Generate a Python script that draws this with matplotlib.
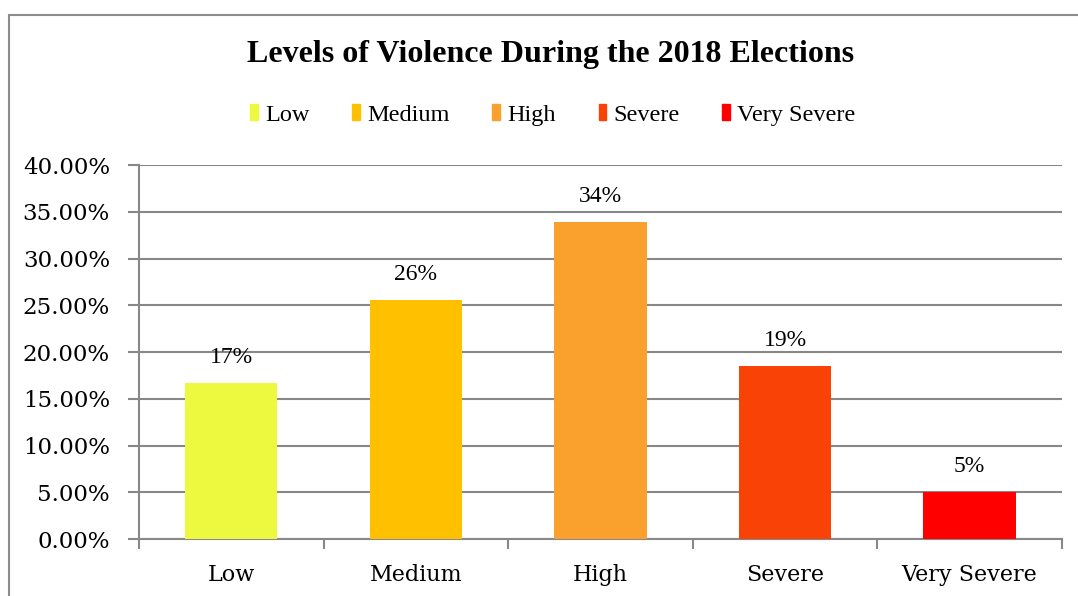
import matplotlib
matplotlib.use("Agg")
from matplotlib import pyplot as plt
from matplotlib.patches import Rectangle
from matplotlib.ticker import PercentFormatter

# datos del gráfico
categories = ["Low", "Medium", "High", "Severe", "Very Severe"]
values = [16.7, 25.6, 33.9, 18.5, 5.0]
labels = ["17%", "26%", "34%", "19%", "5%"]
colors = ["#ecf93e", "#ffc000", "#f9a02d", "#f94306", "#ff0000"]
yticks = [0, 5, 10, 15, 20, 25, 30, 35, 40]

plt.rcParams["font.family"] = ["Liberation Serif", "DejaVu Serif"]
axis_font = ["DejaVu Serif"]

fig = plt.figure(figsize=(10.78, 5.96), dpi=100)
ax = fig.add_axes([0.129, 0.0956, 0.856, 0.6275])

xs = range(len(categories))
bars = ax.bar(xs, values, width=0.5, color=colors, zorder=3)
for b, lab in zip(bars, labels):
    ax.text(b.get_x() + b.get_width() / 2, b.get_height() + 1.6, lab,
            ha="center", va="bottom", fontsize=17)

ax.set_xlim(-0.5, len(categories) - 0.5)
ax.set_ylim(0, 40)
ax.set_yticks(yticks)
ax.yaxis.set_major_formatter(PercentFormatter(decimals=2))
ax.set_xticks(list(xs))
ax.set_xticklabels(categories)
ax.set_xticks([i - 0.5 for i in range(len(categories) + 1)], minor=True)
ax.tick_params(axis="x", which="major", length=0, pad=18, labelsize=16)
ax.tick_params(axis="x", which="minor", length=7, color="#888888", width=1.5, direction="out")
ax.tick_params(axis="y", length=8, color="#888888", width=1.5, labelsize=16.5, pad=13)
for t in ax.get_xticklabels() + ax.get_yticklabels():
    t.set_family(axis_font)

ax.grid(axis="y", color="#888888", linewidth=1.5, zorder=0)
for s in ["top", "right"]:
    ax.spines[s].set_visible(False)
for s in ["left", "bottom"]:
    ax.spines[s].set_color("#888888")
    ax.spines[s].set_linewidth(1.5)

fig.text(0.511, 0.908, "Levels of Violence During the 2018 Elections",
         ha="center", va="center", fontsize=23, fontweight="bold")

handles = [Rectangle((0, 0), 1, 1, color=c) for c in colors]
fig.legend(handles, categories, loc="center", bbox_to_anchor=(0.513, 0.807),
           ncol=5, frameon=False, fontsize=17.5, handlelength=0.32, handleheight=0.6,
           handletextpad=0.3, columnspacing=1.75)

# marco gris alrededor
fig.patches.append(Rectangle((0.0083, -0.1), 1.2, 1.075, transform=fig.transFigure,
                             fill=False, edgecolor="#8c8c8c", linewidth=1.5))

fig.savefig("out.png", dpi=100)
